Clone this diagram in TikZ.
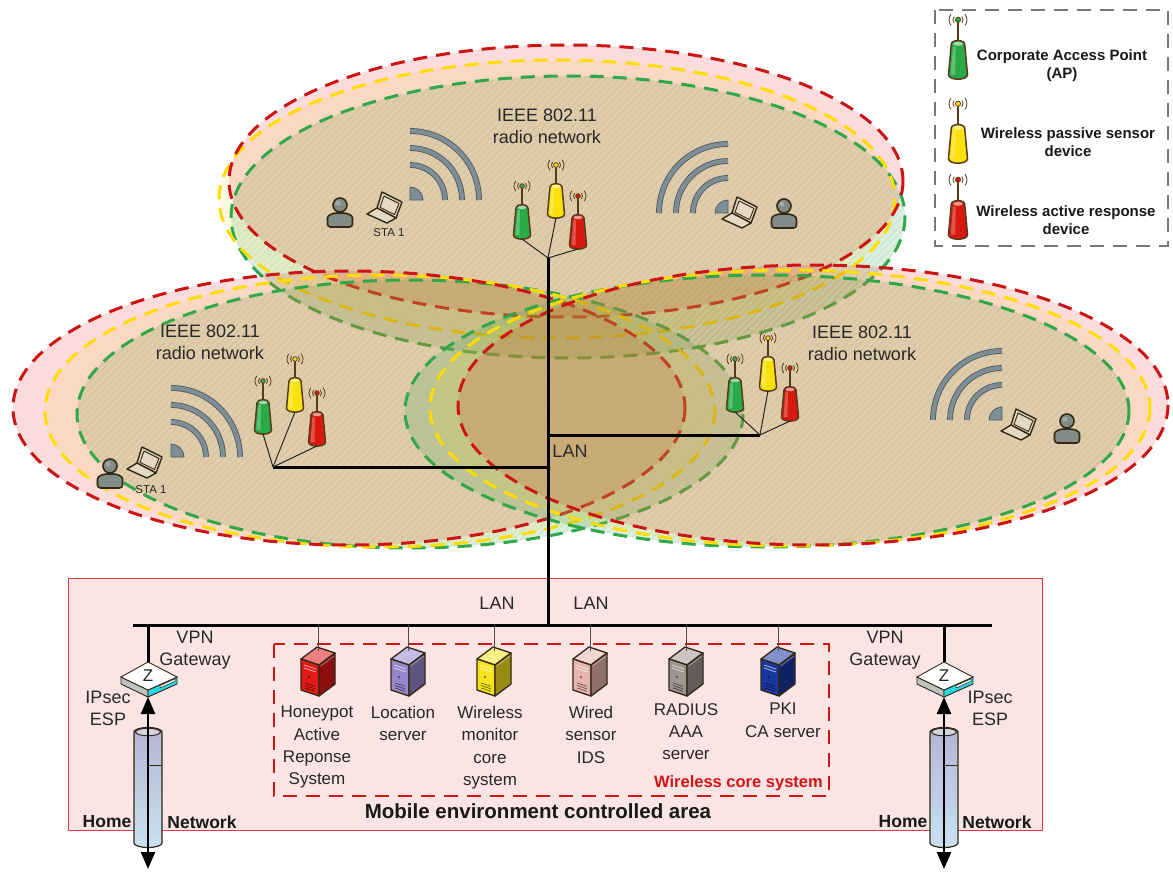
\documentclass[tikz,border=0pt]{standalone}
\usepackage{fontspec}
\setmainfont{Liberation Sans}
\usetikzlibrary{arrows.meta}

% coverage zones
\definecolor{zoneRed}{RGB}{204,20,20}
\definecolor{zoneYellow}{RGB}{255,221,0}
\definecolor{zoneGreen}{RGB}{48,168,74}
\definecolor{tintRed}{RGB}{225,35,35}
\definecolor{tintYellow}{RGB}{255,220,0}
\definecolor{tintGreen}{RGB}{60,180,100}
\definecolor{hatchBrown}{RGB}{190,130,120}
% icons
\definecolor{apEdge}{RGB}{90,58,26}
\definecolor{apGreen}{RGB}{40,170,70}
\definecolor{apYellow}{RGB}{250,225,10}
\definecolor{apRed}{RGB}{215,25,15}
\definecolor{waveFill}{RGB}{126,142,150}
\definecolor{waveEdge}{RGB}{80,90,95}
\definecolor{iconEdge}{RGB}{50,40,20}
\definecolor{personFill}{RGB}{130,140,135}
\definecolor{laptopFill}{RGB}{228,218,195}
\definecolor{routerCyan}{RGB}{40,215,225}
\definecolor{routerSide}{RGB}{190,195,195}
\definecolor{tubeTop}{RGB}{180,180,212}
\definecolor{tubeBottom}{RGB}{200,226,242}
\definecolor{srvRed}{RGB}{225,25,25}
\definecolor{srvLavender}{RGB}{150,135,205}
\definecolor{srvYellow}{RGB}{245,228,30}
\definecolor{srvPink}{RGB}{232,180,175}
\definecolor{srvTaupe}{RGB}{160,148,146}
\definecolor{srvBlue}{RGB}{25,55,160}
% text and frames
\definecolor{labelText}{RGB}{40,40,40}
\definecolor{areaFill}{RGB}{250,228,228}
\definecolor{areaEdge}{RGB}{225,60,60}
\definecolor{coreRed}{RGB}{210,20,20}
\definecolor{legendEdge}{RGB}{120,120,120}

% faint diagonal hatching inside an ellipse: centre x, centre y, x radius, y radius
\newcommand\hatchzone[4]{%
  \begin{scope}
    \clip (#1,#2) ellipse [x radius=#3, y radius=#4];
    \foreach \k in {-520,-513,...,520}
      \draw[hatchline] (#1+\k-150,#2+150) -- (#1+\k+150,#2-150);
  \end{scope}}

\tikzset{
  zonefill/.style={fill=#1, fill opacity=0.16},
  hatchline/.style={draw=hatchBrown, line width=0.6pt, draw opacity=0.24},
  zoneline/.style={draw=#1, line width=3pt, dash pattern=on 14pt off 9pt},
  lanline/.style={line width=3pt, black},
  apline/.style={line width=1pt, black!85},
  droplink/.style={line width=1pt, black!70},
  lbl/.style={font=\fontsize{18}{22}\selectfont, text=labelText, inner sep=0pt, align=center},
  srvlbl/.style={font=\fontsize{17}{22.3}\selectfont, text=labelText, inner sep=0pt, align=center, anchor=north},
  legendlbl/.style={font=\bfseries\fontsize{15}{18}\selectfont, text=black!90, inner sep=0pt, align=center, anchor=north},
  boldlbl/.style={font=\bfseries\fontsize{17.5}{20}\selectfont, text=black!90, inner sep=0pt},
  % access point / sensor
  pics/ap/.style={code={
    \draw[apEdge, line width=1.2pt] (0,1) -- (0,-19);
    \draw[apEdge, line width=0.8pt] (0,-19) ++(-40:4.5) arc[start angle=-40,end angle=40,radius=4.5];
    \draw[apEdge, line width=0.8pt] (0,-19) ++(140:4.5) arc[start angle=140,end angle=220,radius=4.5];
    \draw[apEdge, line width=0.8pt] (0,-19) ++(-40:8) arc[start angle=-40,end angle=40,radius=8];
    \draw[apEdge, line width=0.8pt] (0,-19) ++(140:8) arc[start angle=140,end angle=220,radius=8];
    \draw[apEdge, line width=0.8pt, fill=#1] (0,-19) circle (2.3);
    \draw[apEdge, line width=1.5pt, fill=#1] (-6,3) .. controls (-6,-1.5) and (6,-1.5) .. (6,3)
      -- (8.5,30) .. controls (8.5,35.5) and (-8.5,35.5) .. (-8.5,30) -- cycle;
    \fill[#1!45!white] (0,2.5) ellipse [x radius=4.3, y radius=1.8];
    \fill[white, fill opacity=0.25] (-4.5,5) -- (-2,5) -- (-2.5,30) -- (-6.5,30) -- cycle;
    \coordinate (-base) at (0,34);
  }},
  % radio waves
  pics/wifi/.style={code={
    \draw[waveEdge, line width=0.8pt, fill=waveFill] (0,0) -- (13,0)
      arc[start angle=0,end angle=-90,radius=13] -- cycle;
    \foreach \r in {35,52,69} {
      \draw[waveEdge, line width=5.8pt] (\r,0) arc[start angle=0,end angle=-90,radius=\r];
      \draw[waveFill, line width=4.1pt] (\r,0) arc[start angle=0,end angle=-90,radius=\r];
    }
  }},
  pics/person/.style={code={
    \draw[iconEdge, line width=1.6pt, fill=personFill, rounded corners=3pt]
      (-12.5,15) -- (-12.5,9) .. controls (-12.5,3) and (-7,1) .. (0,1)
      .. controls (7,1) and (12.5,3) .. (12.5,9) -- (12.5,15) -- cycle;
    \draw[iconEdge, line width=1.6pt, fill=personFill] (0,-7) circle (7);
    \fill[white, fill opacity=0.25] (-2,-9) circle (2.5);
  }},
  pics/laptop/.style={code={
    \draw[iconEdge, line width=1.4pt, fill=laptopFill, line join=round]
      (-3,-15) -- (17,-5) -- (11,11) -- (-8,1) -- cycle;
    \draw[iconEdge, line width=0.9pt, line join=round]
      (-1,-11) -- (14,-3.5) -- (9.5,7.5) -- (-5,0.3) -- cycle;
    \draw[iconEdge, line width=1.4pt, fill=laptopFill, line join=round]
      (-8,1) -- (11,11) -- (2,16) -- (-18,7) -- cycle;
  }},
  pics/router/.style={code={
    \draw[iconEdge, line width=0.9pt, fill=routerSide] (-28,0) -- (-1,13) -- (-1,20) -- (-28,7) -- cycle;
    \draw[iconEdge, line width=0.9pt, fill=routerCyan] (-1,13) -- (28,0) -- (28,7) -- (-1,20) -- cycle;
    \draw[iconEdge, line width=0.5pt, fill=white!85!gray] (11,8.5) -- (26,1.8) -- (26,4.3) -- (11,11) -- cycle;
    \draw[iconEdge, line width=0.9pt, fill=white] (-28,0) -- (-1,-15) -- (28,0) -- (-1,13) -- cycle;
    \node[font=\fontsize{17}{17}\selectfont, inner sep=0pt, text=black!85] (-z) at (-1,-1) {Z};
    \coordinate (-top) at (-1,-15);
    \coordinate (-bottom) at (-1,20);
  }},
  pics/server/.style={code={
    \begin{scope}[iconEdge, line width=1.3pt, line join=round]
      \draw[fill=#1!55!white] (-17,-12) -- (-1,-24) -- (17,-18) -- (1,-6) -- cycle;
      \draw[fill=#1] (-17,-12) -- (1,-6) -- (1,25) -- (-17,19) -- cycle;
      \draw[fill=#1!62!black] (1,-6) -- (17,-18) -- (17,13) -- (1,25) -- cycle;
    \end{scope}
    \draw[#1!40!white, line width=0.8pt] (-14,-6) -- (-2,-2) (-14,-3) -- (-2,1);
    \fill[#1!40!black] (-9,6) circle (1.2);
    \foreach \v in {12,14.5,17} \draw[#1!45!black, line width=0.7pt] (-13,\v) -- (-3,\v+3.3);
    \draw[white, opacity=0.35, line width=1pt] (2.5,-5) -- (16,-15);
    \coordinate (-top) at (0,-20);
  }}
}

\begin{document}
\begin{tikzpicture}[x=1pt,y=-1pt]
\useasboundingbox (0,0) rectangle (1173,872);

% ---------------- coverage of the upper radio network
\fill[zonefill=tintGreen, fill opacity=0.2] (568,217) ellipse [x radius=337, y radius=141];
\hatchzone{568}{217}{337}{141}
\fill[zonefill=tintYellow, fill opacity=0.12] (557,199) ellipse [x radius=338, y radius=139];
\fill[zonefill=tintRed] (566,181) ellipse [x radius=337, y radius=136];
\draw[zoneline=zoneGreen] (568,217) ellipse [x radius=337, y radius=141];
\draw[zoneline=zoneYellow] (557,199) ellipse [x radius=338, y radius=139];
\draw[zoneline=zoneRed] (566,181) ellipse [x radius=337, y radius=136];

% ---------------- coverage of the left radio network
\fill[zonefill=tintGreen, fill opacity=0.2] (410,414) ellipse [x radius=333, y radius=134];
\hatchzone{410}{414}{333}{134}
\fill[zonefill=tintYellow, fill opacity=0.12] (380,411) ellipse [x radius=335, y radius=136];
\fill[zonefill=tintRed] (349,408) ellipse [x radius=336, y radius=137];
\draw[zoneline=zoneGreen] (410,414) ellipse [x radius=333, y radius=134];
\draw[zoneline=zoneYellow] (380,411) ellipse [x radius=335, y radius=136];
\draw[zoneline=zoneRed] (349,408) ellipse [x radius=336, y radius=137];

% ---------------- coverage of the right radio network
\fill[zonefill=tintGreen, fill opacity=0.2] (767,411) ellipse [x radius=362, y radius=136];
\hatchzone{767}{411}{362}{136}
\fill[zonefill=tintYellow, fill opacity=0.12] (790,408) ellipse [x radius=360, y radius=138];
\fill[zonefill=tintRed] (813,405) ellipse [x radius=355, y radius=140];
\draw[zoneline=zoneGreen] (767,411) ellipse [x radius=362, y radius=136];
\draw[zoneline=zoneYellow] (790,408) ellipse [x radius=360, y radius=138];
\draw[zoneline=zoneRed] (813,405) ellipse [x radius=355, y radius=140];

% ---------------- controlled area
\draw[areaEdge, line width=1pt, fill=areaFill] (68,578) rectangle (1042,830);
\draw[coreRed, line width=1.8pt, dash pattern=on 14pt off 9pt] (274,644) rectangle (829,796);

% ---------------- stations and radio waves
\pic at (410,200) {wifi};
\pic[xscale=-1] at (728,213) {wifi};
\pic at (171,457) {wifi};
\pic[xscale=-1] at (1002,420) {wifi};

\pic at (340,212) {person};
\pic at (385,207) {laptop};
\node[font=\fontsize{11.5}{12}\selectfont, text=labelText, inner sep=0pt] (staTop) at (389,233) {STA 1};
\pic at (740,212) {laptop};
\pic at (784,213) {person};
\pic at (145,462) {laptop};
\pic at (110,473) {person};
\node[font=\fontsize{11.5}{12}\selectfont, text=labelText, inner sep=0pt] (staLeft) at (151,490) {STA 1};
\pic at (1019,424) {laptop};
\pic at (1067,428) {person};

% ---------------- wired LAN
\coordinate (hubT) at (548,258);
\coordinate (hubL) at (273,467);
\coordinate (hubR) at (760,435);
\coordinate (trunkL) at (548,467);
\coordinate (trunkR) at (548,435);
\coordinate (trunkBase) at (548,625);
\coordinate (bbL) at (133,625);
\coordinate (bbR) at (992,625);
\draw[lanline] (hubT) -- (trunkBase);
\draw[lanline] (hubL) -- (trunkL);
\draw[lanline] (trunkR) -- (hubR);
\draw[lanline] (bbL) -- (bbR);

% ---------------- access points and sensors
\pic (apTg) at (522,205) {ap=apGreen};
\pic (apTy) at (556,184) {ap=apYellow};
\pic (apTr) at (578,215) {ap=apRed};
\pic (apLg) at (263,400) {ap=apGreen};
\pic (apLy) at (295,378) {ap=apYellow};
\pic (apLr) at (317,412) {ap=apRed};
\pic (apRg) at (735,378) {ap=apGreen};
\pic (apRy) at (768,357) {ap=apYellow};
\pic (apRr) at (790,387) {ap=apRed};
\foreach \a in {apTg,apTy,apTr} \draw[apline] (\a-base) -- (hubT);
\foreach \a in {apLg,apLy,apLr} \draw[apline] (\a-base) -- (hubL);
\foreach \a in {apRg,apRy,apRr} \draw[apline] (\a-base) -- (hubR);

\node[lbl, anchor=north] (netTop) at (547,108.5) {IEEE 802.11\\radio network};
\node[lbl, anchor=north] (netLeft) at (210,324.5) {IEEE 802.11\\radio network};
\node[lbl, anchor=north] (netRight) at (862,325.5) {IEEE 802.11\\radio network};
\node[lbl] (lanMid) at (570,451) {LAN};
\node[lbl] (lanBbL) at (497,603) {LAN};
\node[lbl] (lanBbR) at (591,603) {LAN};

% ---------------- core servers
\foreach \n/\x/\c in {1/318/srvRed, 2/408/srvLavender, 3/494/srvYellow, 4/590/srvPink, 5/686/srvTaupe, 6/778/srvBlue} {
  \coordinate (drop\n) at (\x,625);
  \pic (srv\n) at (\x,671) {server=\c};
  \draw[droplink] (drop\n) -- (srv\n-top);
}
\node[srvlbl] (lblSrv1) at (317,706) {Honeypot\\Active\\Reponse\\System};
\node[srvlbl] (lblSrv2) at (403,706) {Location\\server};
\node[srvlbl] (lblSrv3) at (490,706) {Wireless\\monitor\\core\\system};
\node[srvlbl] (lblSrv4) at (591,706) {Wired\\sensor\\IDS};
\node[srvlbl] (lblSrv5) at (686,703) {RADIUS\\AAA\\server};
\node[srvlbl] (lblSrv6) at (783,703) {PKI\\CA server};
\node[font=\bfseries\fontsize{16.5}{18}\selectfont, text=coreRed, inner sep=0pt, anchor=east] (coreLbl) at (823,783) {Wireless core system};
\node[font=\bfseries\fontsize{20.5}{22}\selectfont, text=black!90, inner sep=0pt] (areaLbl) at (538,811) {Mobile environment controlled area};

% ---------------- VPN gateways and tunnels
\foreach \s/\x in {L/148, R/944} {
  \coordinate (vpnDrop\s) at (\x,625);
  \pic (vpn\s) at (\x+1,677) {router};
  \draw[lanline] (vpnDrop\s) -- (vpn\s-top);
  \shade[top color=tubeTop, bottom color=tubeBottom, draw=iconEdge, line width=1.2pt]
    (\x-14,732) -- (\x-14,843) arc[start angle=180,end angle=0,x radius=14,y radius=4.5]
    -- (\x+14,732) arc[start angle=0,end angle=-180,x radius=14,y radius=4.5] -- cycle;
  \draw[iconEdge, line width=1pt, fill=tubeTop!60!white] (\x,732) ellipse [x radius=12.5, y radius=3.8];
  \draw[iconEdge, line width=0.8pt] (\x,765) -- (\x+14,765);
  \coordinate (home\s) at (\x,869);
  \draw[line width=2.4pt, black, {Triangle[length=17pt,width=14pt]}-{Triangle[length=17pt,width=14pt]}]
    (home\s) -- (vpn\s-bottom);
}
\node[lbl, anchor=north] (gwL) at (195,630.5) {VPN\\Gateway};
\node[lbl, anchor=north] (gwR) at (885,630.5) {VPN\\Gateway};
\node[lbl, anchor=north] (espL) at (108,690.5) {IPsec\\ESP};
\node[lbl, anchor=north] (espR) at (990,690.5) {IPsec\\ESP};
\node[boldlbl] (homeLblL) at (107,822) {Home};
\node[boldlbl] (netLblL) at (202,822) {Network};
\node[boldlbl] (homeLblR) at (903,822) {Home};
\node[boldlbl] (netLblR) at (997,822) {Network};

% ---------------- legend
\draw[legendEdge, line width=1.5pt, dash pattern=on 14pt off 9pt] (935,10) rectangle (1168,246);
\pic[scale=1.12] (legAp) at (958,41) {ap=apGreen};
\pic[scale=1.12] (legPs) at (958,125) {ap=apYellow};
\pic[scale=1.12] (legAr) at (958,201) {ap=apRed};
\node[legendlbl] (legApLbl) at (1062,49.5) {Corporate Access Point\\(AP)};
\node[legendlbl] (legPsLbl) at (1068,127.5) {Wireless passive sensor\\device};
\node[legendlbl] (legArLbl) at (1066,205.5) {Wireless active response\\device};
\end{tikzpicture}
\end{document}
